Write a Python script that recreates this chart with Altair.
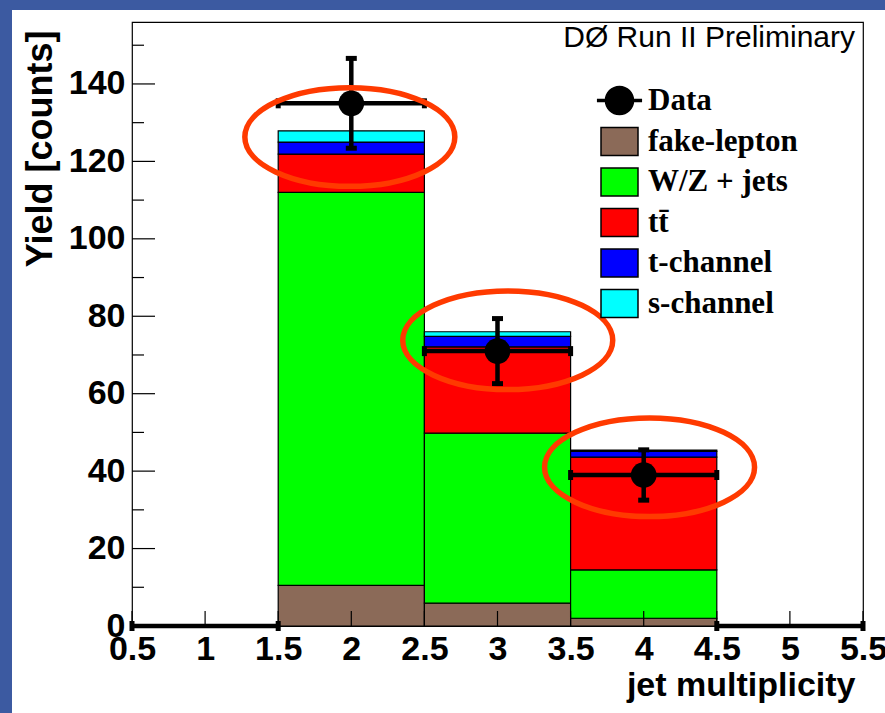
import altair as alt
import pandas as pd

# ---- histogram bins (jet multiplicity) ----
bin_lo = [1.5, 2.5, 3.5]
bin_hi = [2.5, 3.5, 4.5]

# ---- stacked predictions per bin ----
components = ["fake-lepton", "W/Z + jets", "tt\u0304", "t-channel", "s-channel"]
fake_lepton = [10.5, 5.9, 2.0]
wz_jets = [101.5, 43.9, 12.5]
ttbar = [9.9, 22.3, 29.1]
t_channel = [3.1, 2.7, 1.5]
s_channel = [2.9, 1.2, 0.3]

# ---- observed data (all bins 0.5 .. 5.5) ----
data_lo = [0.5, 1.5, 2.5, 3.5, 4.5]
data_hi = [1.5, 2.5, 3.5, 4.5, 5.5]
data_center = [1, 2, 3, 4, 5]
data_counts = [0, 135, 71, 39, 0]
data_err = [0, 11.6, 8.4, 6.5, 0]

# ---- highlight ellipses around the top of each populated bin ----
ellipse_x = [1.99, 3.07, 4.04]
ellipse_y = [126.3, 73.8, 41.0]

# ---- tick positions ----
y_major = [0, 20, 40, 60, 80, 100, 120, 140]
y_minor = [10, 30, 50, 70, 90, 110, 130, 150]
x_ticks = [0.5, 1, 1.5, 2, 2.5, 3, 3.5, 4, 4.5, 5, 5.5]

component_colors = ["#8b6a58", "#00ff00", "#ff0000", "#0000ff", "#00ffff"]

W, H = 731, 604
SANS = "Liberation Sans"
SERIF = "Liberation Serif"
FRAME_BLUE = "#3c5aa1"

# ---- build tables ----
series_vals = [fake_lepton, wz_jets, ttbar, t_channel, s_channel]
rows = []
for i in range(len(bin_lo)):
    base = 0.0
    for name, vals in zip(components, series_vals):
        rows.append({"lo": bin_lo[i], "hi": bin_hi[i], "y0": base,
                     "y1": base + vals[i], "series": name})
        base += vals[i]
stack_df = pd.DataFrame(rows)

data_df = pd.DataFrame({"lo": data_lo, "hi": data_hi, "center": data_center,
                        "count": data_counts, "err": data_err})
data_df["low"] = data_df["count"] - data_df["err"]
data_df["high"] = data_df["count"] + data_df["err"]
data_df["series"] = "Data"
pts_df = data_df[data_df["count"] > 0]

ell_df = pd.DataFrame({"x": ellipse_x, "y": ellipse_y})
ymaj_df = pd.DataFrame({"v": y_major})
ymin_df = pd.DataFrame({"v": y_minor})
xt_df = pd.DataFrame({"v": x_ticks})

# ---- scales / axes ----
xscale = alt.Scale(domain=[0.5, 5.5], nice=False, zero=False)
yscale = alt.Scale(domain=[0, 156], nice=False)

xaxis = alt.Axis(values=x_ticks, format="~g", ticks=False, domain=False, grid=False,
                 labelFont=SANS, labelFontWeight="bold", labelFontSize=34,
                 labelColor="black", labelPadding=6, labelFlush=False, labelOverlap=False,
                 title="jet multiplicity", titleFont=SANS, titleFontWeight="bold",
                 titleFontSize=34, titleColor="black", titleAlign="right",
                 titleBaseline="alphabetic", titleX=723, titleY=69, zindex=1)
yaxis = alt.Axis(values=y_major, ticks=False, domain=False, grid=False,
                 labelFont=SANS, labelFontWeight="bold", labelFontSize=34,
                 labelColor="black", labelPadding=7, labelFlush=False, labelOverlap=False,
                 title="Yield [counts]", titleFont=SANS, titleFontWeight="bold",
                 titleFontSize=36, titleColor="black", titleAngle=-90,
                 titleAlign="right", titleBaseline="middle", titleX=-92, titleY=8,
                 zindex=1)


def X(field):
    return alt.X(field, type="quantitative", scale=xscale, axis=xaxis)


def Y(field):
    return alt.Y(field, type="quantitative", scale=yscale, axis=yaxis)


BOX_PATH = "M-1,-0.757H1V0.757H-1Z"
DATA_PATH = ("M-1.22,-0.1H1.22V0.1H-1.22Z"
             "M-0.8,0C-0.8,-0.442,-0.442,-0.8,0,-0.8C0.442,-0.8,0.8,-0.442,0.8,0"
             "C0.8,0.442,0.442,0.8,0,0.8C-0.442,0.8,-0.8,0.442,-0.8,0Z")
ELLIPSE_PATH = ("M-1,0C-1,-0.26,-0.552,-0.47,0,-0.47C0.552,-0.47,1,-0.26,1,0"
                "C1,0.26,0.552,0.47,0,0.47C-0.552,0.47,-1,0.26,-1,0Z")

legend_style = dict(
    title=None, orient="none", symbolSize=1369,
    symbolStrokeColor="black", symbolStrokeWidth=1.5,
    labelFont=SERIF, labelFontWeight="bold", labelFontSize=31,
    labelColor="black", labelOffset=9, rowPadding=3.5, padding=0,
    labelLimit=400, symbolOpacity=1,
)

color_enc = alt.Color(
    "series:N",
    scale=alt.Scale(domain=components, range=component_colors),
    legend=alt.Legend(legendX=468, legendY=100, symbolType=BOX_PATH, **legend_style),
)
data_enc = alt.Opacity(
    "series:O",
    scale=alt.Scale(domain=["Data"], range=[1]),
    legend=alt.Legend(legendX=468, legendY=59, symbolType=DATA_PATH,
                      symbolFillColor="black", **legend_style),
)

# blue border strips along the left and top edges of the page
strip_left = alt.Chart(pd.DataFrame({"a": [0]})).mark_rect(color=FRAME_BLUE).encode(
    x=alt.value(-132), x2=alt.value(-120), y=alt.value(-22), y2=alt.value(H + 87)
)
strip_top = alt.Chart(pd.DataFrame({"a": [0]})).mark_rect(color=FRAME_BLUE).encode(
    x=alt.value(-132), x2=alt.value(W + 22), y=alt.value(-22), y2=alt.value(-12)
)

bars = alt.Chart(stack_df).mark_rect(stroke="black", strokeWidth=1.2, opacity=1).encode(
    x=X("lo"), x2="hi", y=Y("y0"), y2="y1", color=color_enc
)

ymaj = alt.Chart(ymaj_df).mark_rule(color="black", strokeWidth=1.2).encode(
    y=Y("v"), x=alt.value(0), x2=alt.value(23)
)
ymin = alt.Chart(ymin_df).mark_rule(color="black", strokeWidth=1.2).encode(
    y=Y("v"), x=alt.value(0), x2=alt.value(12)
)
xt = alt.Chart(xt_df).mark_rule(color="black", strokeWidth=1.2).encode(
    x=X("v"), y=alt.value(H - 15), y2=alt.value(H)
)

hbar = alt.Chart(data_df).mark_rule(color="black", strokeWidth=4.5).encode(
    x=X("lo"), x2="hi", y=Y("count")
)
hcaps = alt.Chart(data_df).transform_fold(["lo", "hi"], as_=["end", "edge"]).mark_tick(
    orient="vertical", color="black", thickness=5, size=10, opacity=1
).encode(x=X("edge"), y=Y("count"))

vbar = alt.Chart(pts_df).mark_rule(color="black", strokeWidth=4.5).encode(
    x=X("center"), y=Y("low"), y2="high"
)
vcaps = alt.Chart(pts_df).transform_fold(["low", "high"], as_=["end", "val"]).mark_tick(
    orient="horizontal", color="black", thickness=5, size=11, opacity=1
).encode(x=X("center"), y=Y("val"))

circles = alt.Chart(pts_df).mark_point(
    shape="circle", filled=True, size=660, color="black"
).encode(x=X("center"), y=Y("count"), opacity=data_enc)

ellipses = alt.Chart(ell_df).mark_point(
    shape=ELLIPSE_PATH, size=44100, filled=False, color="#ff3a00",
    strokeWidth=5.5, opacity=1
).encode(x=X("x"), y=Y("y"))

chart = alt.layer(
    strip_left, strip_top, bars, ymaj, ymin, xt, hbar, hcaps, vbar, vcaps, circles, ellipses
).properties(
    width=W, height=H,
    padding={"left": 132, "top": 22, "right": 22, "bottom": 87},
    autosize=alt.AutoSizeParams(type="none"),
    background="white",
    title=alt.TitleParams(
        "D\u00d8 Run II Preliminary", orient="top", anchor="end", frame="group",
        baseline="alphabetic", offset=0, dy=77, dx=-8, font=SANS, fontSize=30,
        fontWeight=500, color="black",
    ),
).configure_view(stroke="black", strokeWidth=1.2, fill="white")

chart.save("out.html", embed_options={"renderer": "svg", "actions": False})
